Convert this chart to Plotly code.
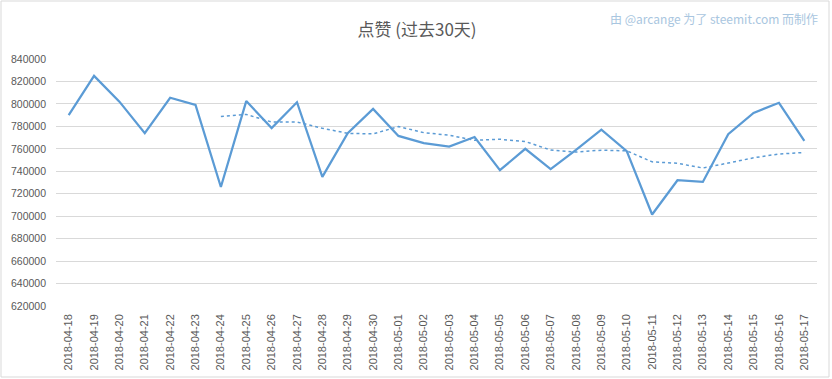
import plotly.graph_objects as go

dates = ["2018-04-18", "2018-04-19", "2018-04-20", "2018-04-21", "2018-04-22", "2018-04-23",
         "2018-04-24", "2018-04-25", "2018-04-26", "2018-04-27", "2018-04-28", "2018-04-29",
         "2018-04-30", "2018-05-01", "2018-05-02", "2018-05-03", "2018-05-04", "2018-05-05",
         "2018-05-06", "2018-05-07", "2018-05-08", "2018-05-09", "2018-05-10", "2018-05-11",
         "2018-05-12", "2018-05-13", "2018-05-14", "2018-05-15", "2018-05-16", "2018-05-17"]

upvotes = [790000, 825000, 802000, 774000, 805500, 799000,
           726000, 802500, 778500, 801500, 735000, 774000,
           795500, 771500, 765000, 762000, 770500, 741000,
           760000, 742000, 759000, 777000, 758000, 701500,
           732000, 730500, 773000, 792000, 801000, 767000]

# 7-day moving-average trend line (starts on 2018-04-24)
trend = [None, None, None, None, None, None,
         788800, 790600, 783900, 783900, 778300, 773800,
         773300, 779800, 774400, 772100, 767600, 768500,
         766500, 758900, 757100, 758800, 758200, 748400,
         747100, 742900, 747300, 752000, 755400, 756700]

y_ticks = list(range(620000, 840001, 20000))

LINE = "#5B9BD5"
TXT = "#595959"
GRID = "#D9D9D9"
FONT = "Liberation Sans, Noto Sans CJK SC, sans-serif"

fig = go.Figure()
fig.add_trace(go.Scatter(x=dates, y=upvotes, mode="lines",
                         line=dict(color=LINE, width=2.25), showlegend=False))
fig.add_trace(go.Scatter(x=dates, y=trend, mode="lines",
                         line=dict(color=LINE, width=1.5, dash="dot"), showlegend=False))

fig.update_layout(
    width=832, height=379,
    margin=dict(l=56, r=15, t=59, b=73, autoexpand=False),
    paper_bgcolor="white", plot_bgcolor="white",
    font=dict(family=FONT, color=TXT, size=11),
    title=dict(text="点赞 (过去30天)", x=417 / 832, xanchor="center", y=1 - 30 / 379, yanchor="middle",
               font=dict(family="Noto Sans CJK SC, sans-serif", size=17, color=TXT)),
    xaxis=dict(type="category", range=[-0.5, 29.5], tickangle=-90, showgrid=False,
               showline=False, ticks="", tickfont=dict(size=11, color=TXT),
               ticklabelstandoff=5, automargin=False),
    yaxis=dict(range=[620000, 840000], tickvals=y_ticks, ticktext=[str(v) for v in y_ticks],
               showgrid=True, gridcolor=GRID, gridwidth=1, zeroline=False, showline=False,
               ticks="", tickfont=dict(size=10.5, color=TXT), ticklabelstandoff=9,
               automargin=False),
    annotations=[dict(text="由 @arcange 为了 steemit.com 而制作", xref="paper", yref="paper",
                      x=(820 - 56) / 761, y=(306 - 18) / 247, xanchor="right", yanchor="middle",
                      showarrow=False,
                      font=dict(family="Noto Sans CJK SC, sans-serif", size=12, color="#A9C6E0"))],
    shapes=[dict(type="rect", xref="paper", yref="paper",
                 x0=(1 - 56) / 761, x1=(829 - 56) / 761,
                 y0=(306 - 377) / 247, y1=(306 - 1) / 247,
                 line=dict(color=GRID, width=1), fillcolor="rgba(0,0,0,0)", layer="below")],
)

fig.write_html("out.html", config={"displayModeBar": False},
               post_script="document.body.style.margin='0';document.body.style.overflow='hidden';")
